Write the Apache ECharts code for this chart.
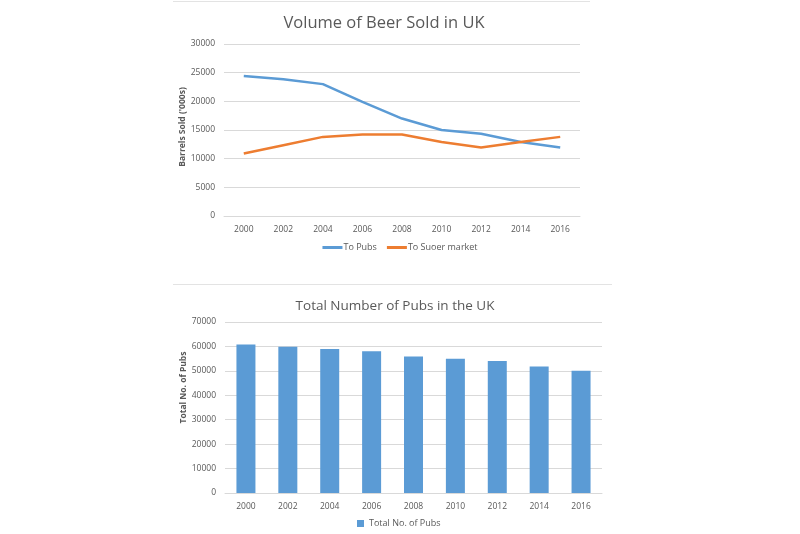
<!DOCTYPE html>
<html><head><meta charset="utf-8">
<script src="https://cdn.jsdelivr.net/npm/echarts@6/dist/echarts.min.js"></script>
<style>html,body{margin:0;padding:0;background:#fff}#c{width:800px;height:534px}</style>
</head><body><div id="c"></div>
<script>
var years = ['2000','2002','2004','2006','2008','2010','2012','2014','2016'];
var toPubs = [24400, 23850, 23000, 19900, 17000, 15000, 14350, 12900, 11950];
var toSupermarket = [10900, 12350, 13800, 14200, 14200, 12900, 11950, 12900, 13800];
var totalPubs = [60800, 59900, 58900, 58000, 55900, 55000, 54000, 51800, 50000];

var FONT = '"Open Sans", "Liberation Sans", sans-serif';
var GREY = '#595959';
var GRID = '#d9d9d9';
var chart = echarts.init(document.getElementById('c'), null, {renderer:'canvas'});
function yLabel(){ return {color: GREY, fontSize: 8.5, fontFamily: FONT, margin: 9, formatter: function(v){ return String(v); }}; }
function xLabel(){ return {color: GREY, fontSize: 8.5, fontFamily: FONT, margin: 9}; }
chart.setOption({
  animation: false,
  backgroundColor: '#fff',
  graphic: [
    {type:'line', shape:{x1:173,y1:1.5,x2:590,y2:1.5}, style:{stroke:'#e3e3e3', lineWidth:1}},
    {type:'line', shape:{x1:173,y1:284.5,x2:612,y2:284.5}, style:{stroke:'#e3e3e3', lineWidth:1}}
  ],
  title: [
    {text:'Volume of Beer Sold in UK', left:379, top:10, textAlign:'center',
     textStyle:{color:GREY, fontSize:16.5, fontWeight:'normal', fontFamily:FONT}},
    {text:'Total Number of Pubs in the UK', left:390, top:294, textAlign:'center',
     textStyle:{color:GREY, fontSize:13.5, fontWeight:'normal', fontFamily:FONT}}
  ],
  legend: [
    {data:['To Pubs','To Suoer market'], left:'center', top:243, icon:'rect', itemWidth:20, itemHeight:3, itemGap:10,
     textStyle:{color:GREY, fontSize:9, fontFamily:FONT, padding:[0,0,0,-4]}, padding:0},
    {data:['Total No. of Pubs'], left:357, top:519, icon:'rect', itemWidth:7, itemHeight:7, itemGap:4,
     textStyle:{color:GREY, fontSize:9, fontFamily:FONT}, padding:0}
  ],
  grid: [
    {left:224, right:220, top:44, bottom:318},
    {left:225, right:198, top:322, bottom:41}
  ],
  xAxis: [
    {type:'category', gridIndex:0, data:years, boundaryGap:true,
     axisLine:{lineStyle:{color:GRID}}, axisTick:{show:false}, axisLabel:xLabel()},
    {type:'category', gridIndex:1, data:years, boundaryGap:true,
     axisLine:{lineStyle:{color:GRID}}, axisTick:{show:false}, axisLabel:xLabel()}
  ],
  yAxis: [
    {type:'value', gridIndex:0, min:0, max:30000, interval:5000,
     name:"Barrels Sold ('000s)", nameLocation:'middle', nameGap:37,
     nameTextStyle:{color:GREY, fontSize:8.5, fontWeight:'bold', fontFamily:FONT, padding:[0,0,0,6]},
     axisLine:{show:false}, axisTick:{show:false}, axisLabel:yLabel(),
     splitLine:{lineStyle:{color:GRID}}},
    {type:'value', gridIndex:1, min:0, max:70000, interval:10000,
     name:'Total No. of Pubs', nameLocation:'middle', nameGap:37,
     nameTextStyle:{color:GREY, fontSize:8.5, fontWeight:'bold', fontFamily:FONT, padding:[0,0,0,40]},
     axisLine:{show:false}, axisTick:{show:false}, axisLabel:yLabel(),
     splitLine:{lineStyle:{color:GRID}}}
  ],
  series: [
    {name:'To Pubs', type:'line', xAxisIndex:0, yAxisIndex:0, data:toPubs, showSymbol:false, symbol:'none',
     itemStyle:{color:'#5B9BD5'}, lineStyle:{color:'#5B9BD5', width:2.5}},
    {name:'To Suoer market', type:'line', xAxisIndex:0, yAxisIndex:0, data:toSupermarket, showSymbol:false, symbol:'none',
     itemStyle:{color:'#ED7D31'}, lineStyle:{color:'#ED7D31', width:2.5}},
    {name:'Total No. of Pubs', type:'bar', xAxisIndex:1, yAxisIndex:1, data:totalPubs, barWidth:19,
     itemStyle:{color:'#5B9BD5'}}
  ]
});
</script></body></html>
